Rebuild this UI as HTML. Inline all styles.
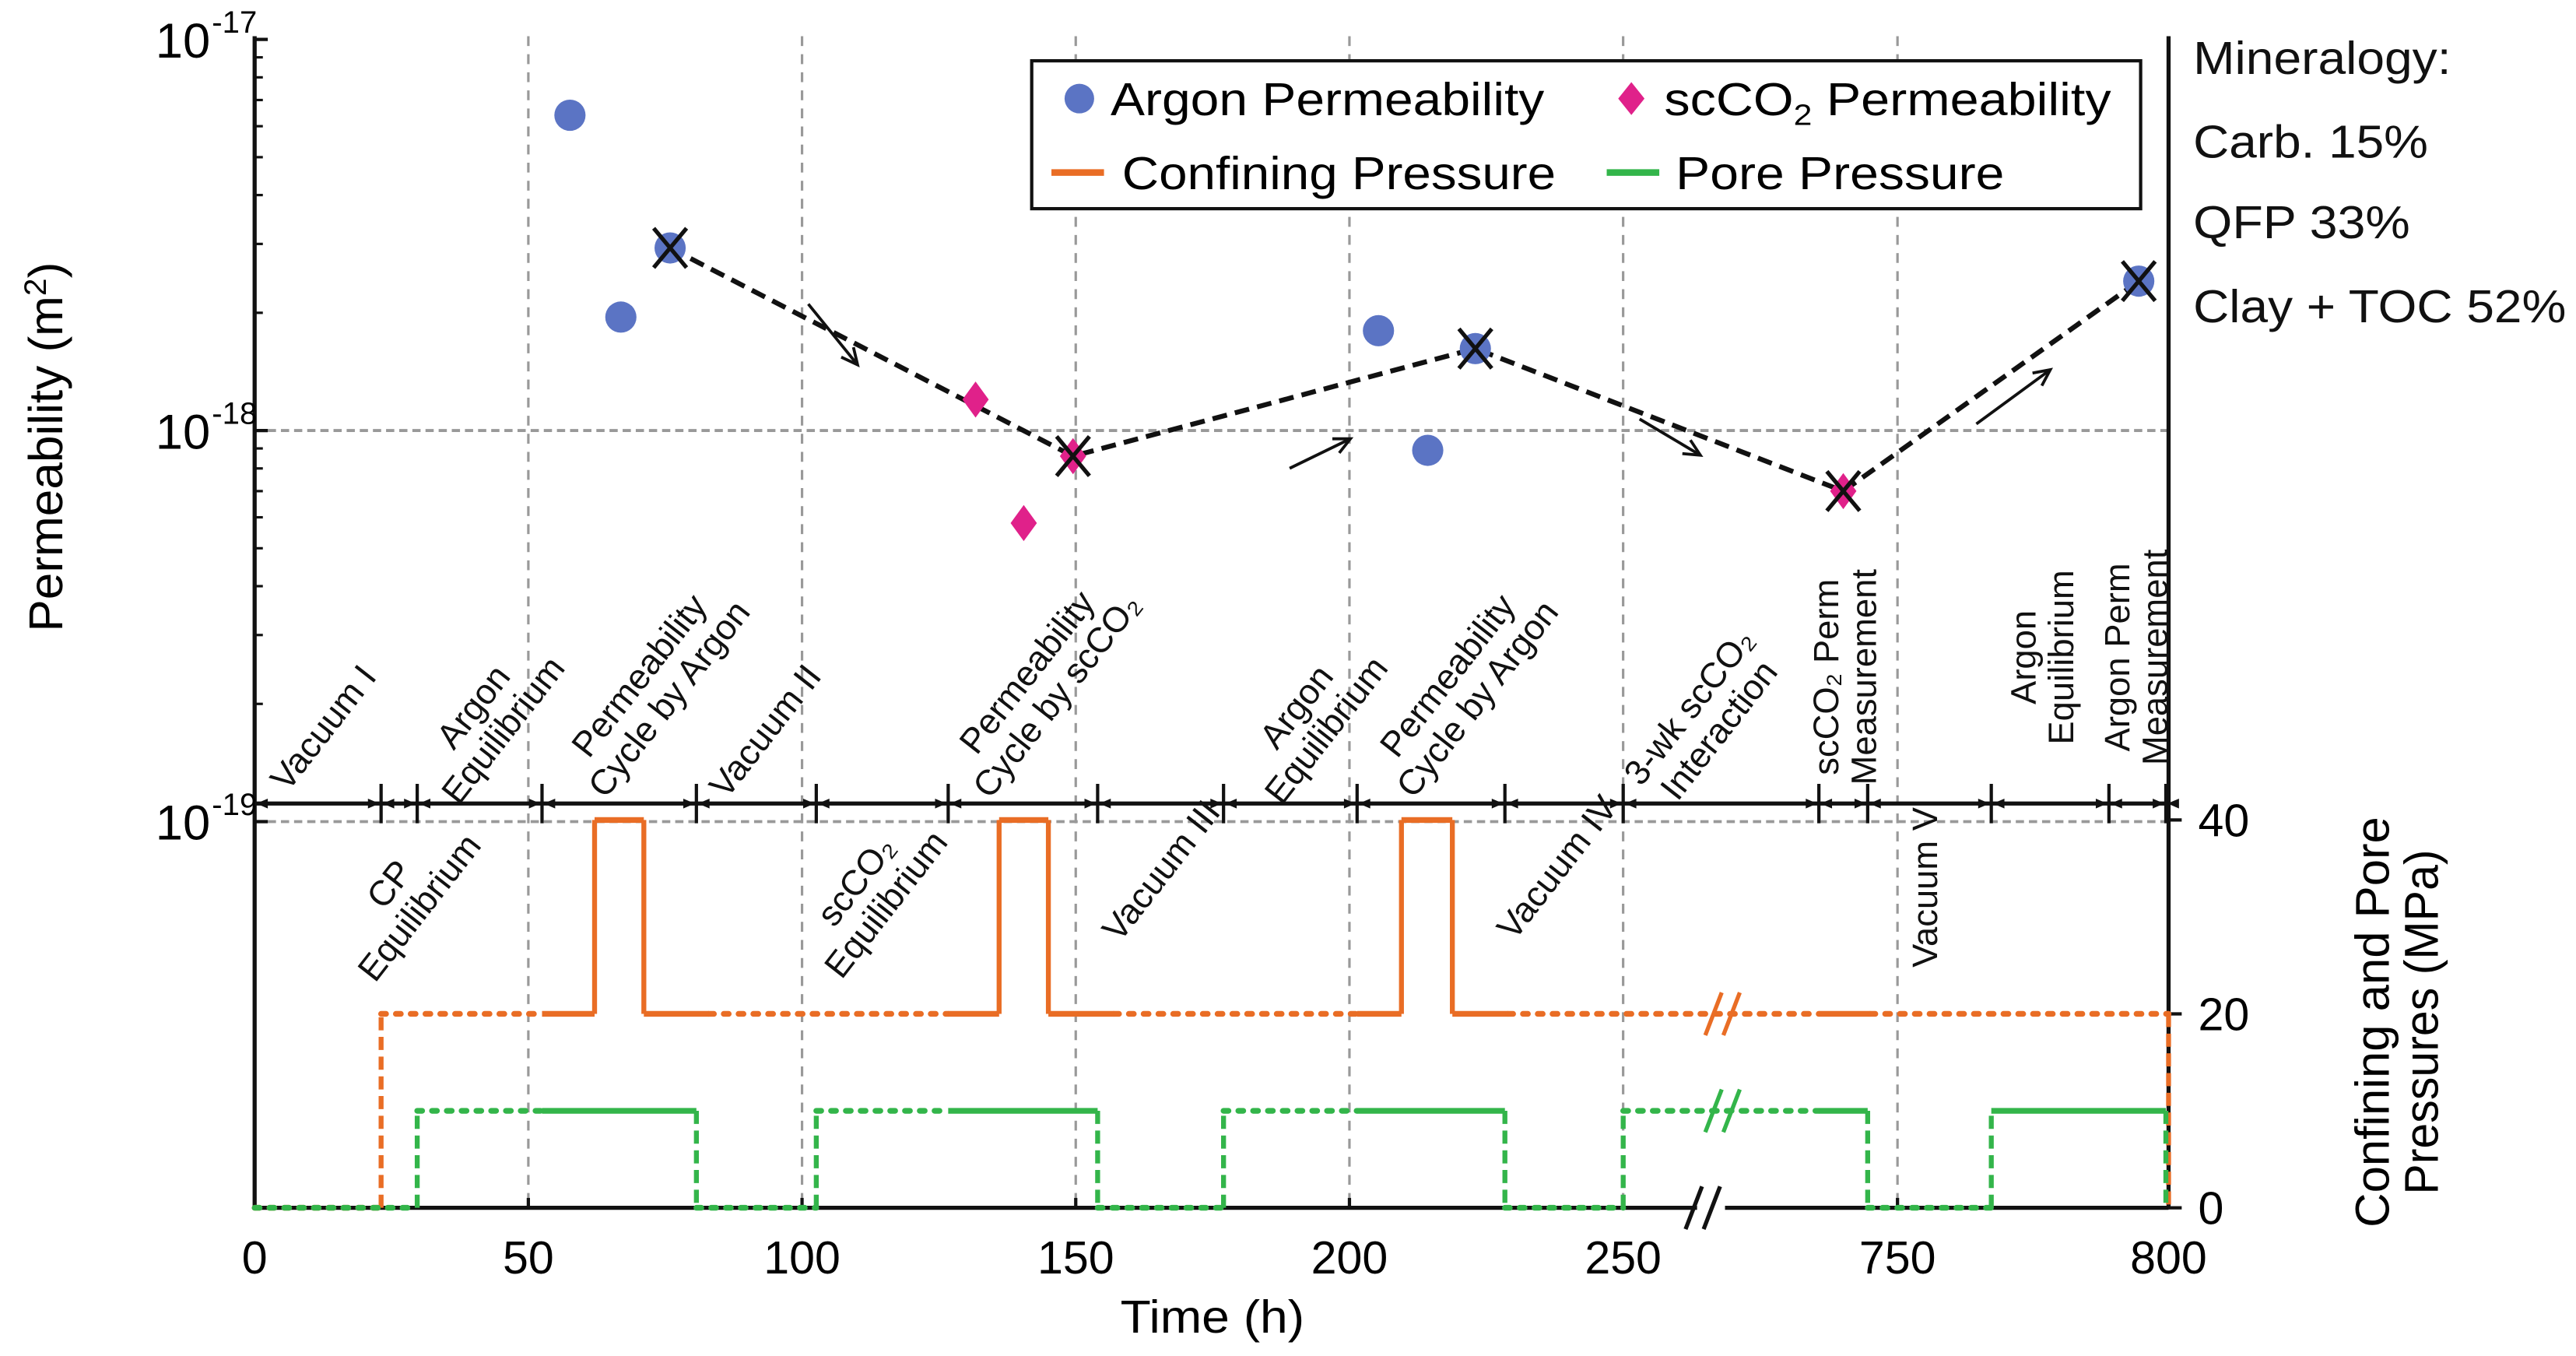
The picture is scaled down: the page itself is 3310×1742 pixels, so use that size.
<!DOCTYPE html>
<html><head><meta charset="utf-8"><style>
html,body{margin:0;padding:0;background:#fff;}
svg{display:block;font-family:"Liberation Sans",Arial,sans-serif;}
</style></head><body>
<svg id="chart" width="3310" height="1742" viewBox="0 0 1568 825.2" preserveAspectRatio="none" xmlns="http://www.w3.org/2000/svg">
<g id="grid"></g>
<g id="axes"></g>
<g id="series"></g>
<g id="timeline"></g>
<g id="labels" font-size="21.5" fill="#111"></g>
<g id="points"></g>

<g>
  <rect x="628" y="37" width="675" height="90" fill="#fff" stroke="#111" stroke-width="2"/>
  <circle cx="657" cy="60" r="9" fill="#5b74c4"/>
  <text x="676" y="70" font-size="28" textLength="264" lengthAdjust="spacingAndGlyphs">Argon Permeability</text>
  <path d="M993,50 L1001,60 L993,70 L985,60 Z" fill="#e0218a"/>
  <text x="1013" y="70" font-size="28" textLength="272" lengthAdjust="spacingAndGlyphs">scCO<tspan font-size="18" dy="6">2</tspan><tspan dy="-6"> Permeability</tspan></text>
  <line x1="640" y1="105" x2="672" y2="105" stroke="#e96d25" stroke-width="4"/>
  <text x="683" y="115" font-size="28" textLength="264" lengthAdjust="spacingAndGlyphs">Confining Pressure</text>
  <line x1="978" y1="105" x2="1010" y2="105" stroke="#33b54a" stroke-width="4"/>
  <text x="1020" y="115" font-size="28" textLength="200" lengthAdjust="spacingAndGlyphs">Pore Pressure</text>
</g>

<g font-size="28" fill="#111">
  <text x="1335" y="45" textLength="157" lengthAdjust="spacingAndGlyphs">Mineralogy:</text>
  <text x="1335" y="96" textLength="143" lengthAdjust="spacingAndGlyphs">Carb. 15%</text>
  <text x="1335" y="145" textLength="132" lengthAdjust="spacingAndGlyphs">QFP 33%</text>
  <text x="1335" y="196" textLength="227" lengthAdjust="spacingAndGlyphs">Clay + TOC 52%</text>
</g>

<text transform="translate(38,272) rotate(-90)" text-anchor="middle" font-size="29" textLength="225" lengthAdjust="spacingAndGlyphs">Permeability (m<tspan font-size="19" dy="-10">2</tspan><tspan dy="10">)</tspan></text>
<g font-size="29" text-anchor="middle">
  <text transform="translate(1454,622) rotate(-90)" textLength="250" lengthAdjust="spacingAndGlyphs">Confining and Pore</text>
  <text transform="translate(1484,622) rotate(-90)" textLength="210" lengthAdjust="spacingAndGlyphs">Pressures (MPa)</text>
</g>
<text x="738" y="811" text-anchor="middle" font-size="28" textLength="112" lengthAdjust="spacingAndGlyphs">Time (h)</text>
</svg>
<script>
// ---- data ----
const xTickLabels = [0,50,100,150,200,250,750,800];
const yDecades = [-17,-18,-19];
const mpaTicks = [0,20,40];
const argonTimes = [57.6,66.9,75.9,205.3,214.3,223.0,794.5];
const argonValues = [6.4e-18,1.95e-18,2.93e-18,1.8e-18,0.89e-18,1.62e-18,2.41e-18];
const argonMarked = [false,false,true,false,false,true,true];
const co2Times = [131.7,140.5,149.5,740];
const co2Values = [1.2e-18,0.58e-18,0.86e-18,0.7e-18];
const co2Marked = [false,false,true,true];
const trendTimes = [75.9,149.5,223.0,740,794.5];
const trendValues = [2.93e-18,0.86e-18,1.62e-18,0.7e-18,2.41e-18];
const confTimes = [0,23.1,52.5,62.1,71.1,83,126.7,136,145,157,201.4,209.5,218.8,229,735.5,745,800];
const confValues = [0,20,20,40,20,20,20,40,20,20,20,40,20,20,20,20];
const confStyles = ['d','d','s','s','s','d','s','s','s','d','s','s','s','d','s','d'];
const poreTimes = [0,29.7,52.5,80.7,102.6,126.7,154,177,201.4,228.4,250.3,735.5,744.5,767.3,799.5];
const poreValues = [0,10,10,0,10,10,0,10,10,0,10,10,0,10];
const poreStyles = ['d','d','s','d','d','s','d','d','s','d','d','s','d','s'];
const phaseTimes = [23.1,29.7,52.5,80.7,102.6,126.7,154,177,201.4,228.4,250.3,735.5,744.5,767.3,789,799.5];

const L=155,R=1320,T=22,B=735;
function xT(t){ if(t<=250) return L+t*3.332; if(t>=715) return 1155+(t-750)*3.3; return 988+(t-250)*(1039.5-988)/465; }
function yP(v){ return 262-238*(Math.log10(v)+18); }
function yM(m){ return B-m*5.9; }
const NS='http://www.w3.org/2000/svg';
function mk(tag,attrs,parent){const e=document.createElementNS(NS,tag);for(const k in attrs)e.setAttribute(k,attrs[k]);parent.appendChild(e);return e;}
const grid=document.getElementById('grid'),axes=document.getElementById('axes'),series=document.getElementById('series'),pts=document.getElementById('points'),tl=document.getElementById('timeline'),lab=document.getElementById('labels');

[50,100,150,200,250,750].forEach(t=>{const g=mk('line',{x1:xT(t),x2:xT(t),y1:T,y2:B,stroke:'#999','stroke-width':1.5,'stroke-dasharray':'6,5'},grid);

});
[-18,-19].forEach(d=>{const g=mk('line',{x1:L,x2:R,y1:yP(Math.pow(10,d)),y2:yP(Math.pow(10,d)),stroke:'#999','stroke-width':1.8,'stroke-dasharray':'5,3'},grid);

});

mk('line',{x1:L,y1:T,x2:L,y2:B,stroke:'#111','stroke-width':2.5},axes);
mk('line',{x1:R,y1:T,x2:R,y2:B,stroke:'#111','stroke-width':2.5},axes);
mk('line',{x1:L,y1:B,x2:1033,y2:B,stroke:'#111','stroke-width':2.5},axes);
mk('line',{x1:1050,y1:B,x2:R,y2:B,stroke:'#111','stroke-width':2.5},axes);
[[1036,B],[1048,617],[1048,676]].forEach((p,i)=>{const c=i==0?'#111':(i==1?'#e96d25':'#33b54a');
mk('line',{x1:p[0]-10,y1:p[1]+13,x2:p[0],y2:p[1]-13,stroke:c,'stroke-width':2.5},axes);
mk('line',{x1:p[0]+1,y1:p[1]+13,x2:p[0]+11,y2:p[1]-13,stroke:c,'stroke-width':2.5},axes);});
xTickLabels.forEach(t=>{const x=xT(t);mk('line',{x1:x,x2:x,y1:B,y2:B-6,stroke:'#111','stroke-width':2},axes);
const tx=mk('text',{x:x,y:B+40,'text-anchor':'middle','font-size':28},axes);tx.textContent=t;

});
yDecades.forEach(d=>{const y=yP(Math.pow(10,d));mk('line',{x1:L,x2:L+8,y1:y,y2:y,stroke:'#111','stroke-width':2},axes);
const tx=mk('text',{x:128,y:y+11,'text-anchor':'end','font-size':30},axes);tx.textContent='10';


const sp=mk('text',{x:129,y:y-4,'font-size':19},axes);sp.textContent=String(d);
if(d>-19){for(let k=2;k<=9;k++){const yy=yP(k*Math.pow(10,d-1));mk('line',{x1:L,x2:L+5,y1:yy,y2:yy,stroke:'#111','stroke-width':1.5},axes);}}});
mpaTicks.forEach(m=>{const y=yM(m);mk('line',{x1:R,x2:R+8,y1:y,y2:y,stroke:'#111','stroke-width':2},axes);
const tx=mk('text',{x:1338,y:y+10,'font-size':28},axes);tx.textContent=m;

});

function drawSteps(times,vals,styles,color,name){
 for(let i=0;i<vals.length;i++){
  const x0=xT(times[i]),x1=xT(times[i+1]),y=yM(vals[i]);
  const seg=mk('line',{x1:x0,x2:x1,y1:y,y2:y,stroke:color,'stroke-width':3.5,'stroke-linecap':styles[i]=='s'?'butt':'round'},series);
  if(styles[i]=='d')seg.setAttribute('stroke-dasharray','3,6');
  
  
  if(i<vals.length-1 && vals[i]!==vals[i+1]){
   const vs=mk('line',{x1:x1,x2:x1,y1:y,y2:yM(vals[i+1]),stroke:color,'stroke-width':3},series);
   if(styles[i]=='d'||styles[i+1]=='d')vs.setAttribute('stroke-dasharray','8,4');
  }
 }
 const last=vals.length-1,xl=xT(times[last+1]);
 if(vals[last]!==0){mk('line',{x1:xl,x2:xl,y1:yM(vals[last]),y2:yM(0),stroke:color,'stroke-width':3,'stroke-dasharray':'8,4'},series);}
}
drawSteps(confTimes,confValues,confStyles,'#e96d25','confining-pressure');
drawSteps(poreTimes,poreValues,poreStyles,'#33b54a','pore-pressure');

const tlY=489;
mk('line',{x1:L,x2:R,y1:tlY,y2:tlY,stroke:'#111','stroke-width':2.5},tl);
[L].concat(phaseTimes.map(t=>xT(t))).forEach((x,i)=>{
 if(i>0)mk('line',{x1:x,x2:x,y1:tlY-12,y2:tlY+12,stroke:'#111','stroke-width':2},tl);
 mk('path',{d:'M'+(x+1)+','+tlY+' l7,-3 v6 z',fill:'#111'},tl);
 if(i>0)mk('path',{d:'M'+(x-1)+','+tlY+' l-7,-3 v6 z',fill:'#111'},tl);
});

const phaseLabels=[
 ['Vacuum I',null,197,443,-52],
 ['Argon','Equilibrium',297,437,-52],
 ['Permeability','Cycle by Argon',398,418,-52],
 ['Vacuum II',null,466,445,-52],
 ['Permeability','Cycle by scCO₂',634,416,-52],
 ['Argon','Equilibrium',798,437,-52],
 ['Permeability','Cycle by Argon',890,418,-52],
 ['3-wk scCO₂','Interaction',1037,437,-52],
 ['scCO₂ Perm','Measurement',1123,412,-90],
 ['Argon','Equilibrium',1243,400,-90],
 ['Argon Perm','Measurement',1300,400,-90],
 ['CP','Equilibrium',246,545,-52],
 ['scCO₂','Equilibrium',530,543,-52],
 ['Vacuum III',null,707,530,-52],
 ['Vacuum IV',null,948,528,-52],
 ['Vacuum V',null,1172,540,-90]];
phaseLabels.forEach(p=>{
 const g=mk('g',{transform:'translate('+p[2]+','+p[3]+') rotate('+p[4]+')'},lab);
 
 
 if(p[1]){const a=mk('text',{x:0,y:-4,'text-anchor':'middle'},g);a.textContent=p[0];
  const b=mk('text',{x:0,y:19,'text-anchor':'middle'},g);b.textContent=p[1];}
 else{const a=mk('text',{x:0,y:7,'text-anchor':'middle'},g);a.textContent=p[0];}
});

let dd='';trendTimes.forEach((t,i)=>{dd+=(i?'L':'M')+xT(t)+','+yP(trendValues[i]);});
const tr=mk('path',{d:dd,fill:'none',stroke:'#111','stroke-width':3,'stroke-dasharray':'9,5'},pts);


[[492,185,522,222],[785,285,822,267],[998,255,1035,277],[1203,258,1248,225]].forEach(a=>{
 mk('line',{x1:a[0],y1:a[1],x2:a[2],y2:a[3],stroke:'#111','stroke-width':1.8},pts);
 const ang=Math.atan2(a[3]-a[1],a[2]-a[0]);
 const h=11;const p1=[a[2]-h*Math.cos(ang-0.45),a[3]-h*Math.sin(ang-0.45)],p2=[a[2]-h*Math.cos(ang+0.45),a[3]-h*Math.sin(ang+0.45)];
 mk('polyline',{points:p1.join(',')+' '+a[2]+','+a[3]+' '+p2.join(','),fill:'none',stroke:'#111','stroke-width':1.8},pts);
});
function xMark(x,y){mk('line',{x1:x-10,y1:y-12,x2:x+10,y2:y+12,stroke:'#111','stroke-width':2.5},pts);mk('line',{x1:x+10,y1:y-12,x2:x-10,y2:y+12,stroke:'#111','stroke-width':2.5},pts);}
argonTimes.forEach((t,i)=>{const x=xT(t),y=yP(argonValues[i]);
 const c=mk('circle',{cx:x,cy:y,r:9.5,fill:'#5b74c4'},pts);
 
 
 if(argonMarked[i])xMark(x,y);});
co2Times.forEach((t,i)=>{const x=xT(t),y=yP(co2Values[i]);
 const c=mk('path',{d:'M'+x+','+(y-11)+' L'+(x+8)+','+y+' L'+x+','+(y+11)+' L'+(x-8)+','+y+' Z',fill:'#e0218a'},pts);
 
 
 if(co2Marked[i])xMark(x,y);});
</script>
</body></html>
